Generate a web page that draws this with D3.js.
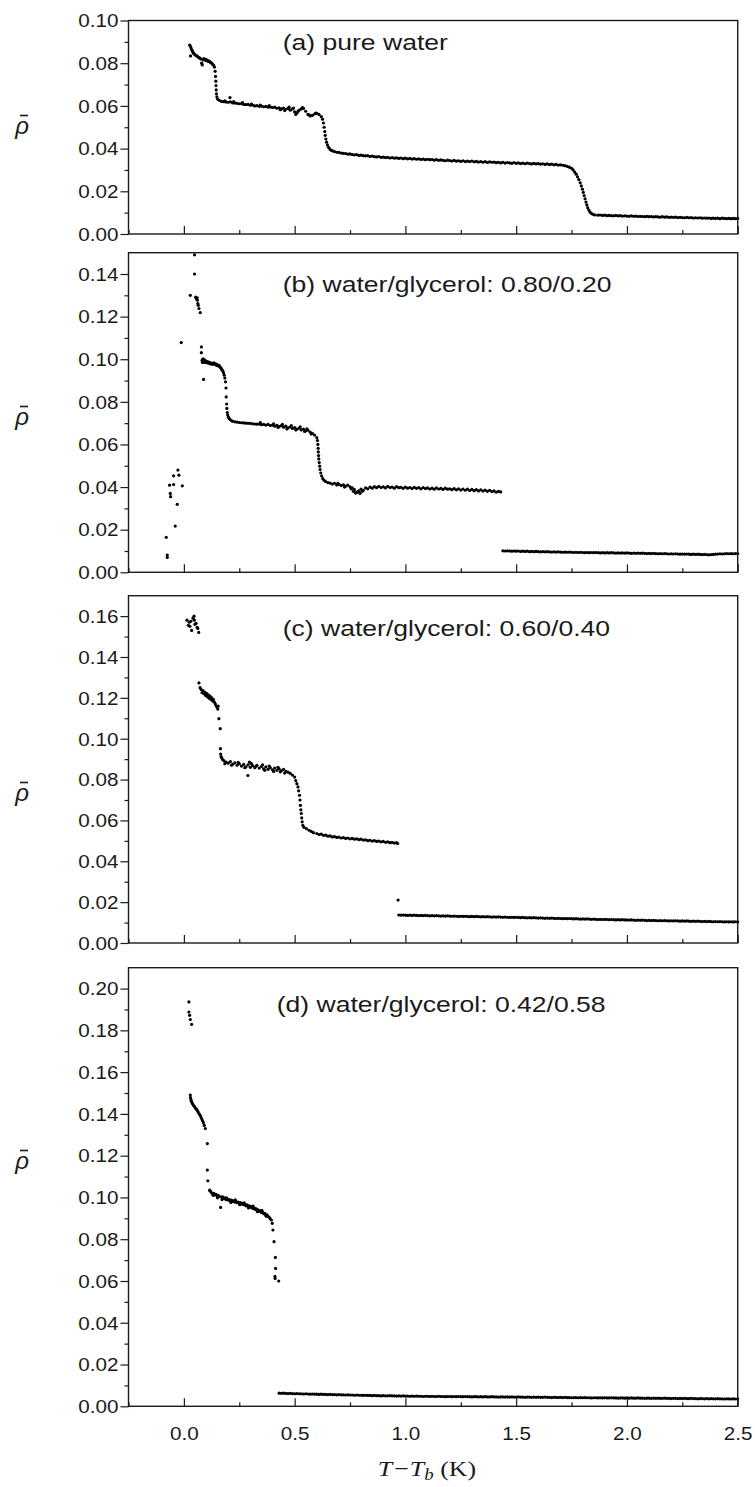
<!DOCTYPE html>
<html><head><meta charset="utf-8">
<script src="https://cdn.jsdelivr.net/npm/d3@7"></script>
<style>body{margin:0;background:#fff}svg{display:block}</style>
</head><body><svg id="chart" width="755" height="1487"></svg>
<script>
// ---------------- DATA ----------------
const panelLabels = ["(a) pure water", "(b) water/glycerol: 0.80/0.20", "(c) water/glycerol: 0.60/0.40", "(d) water/glycerol: 0.42/0.58"];
const yMaxes = [0.10, 0.15, 0.17, 0.21];
const yTicksA = [0, 0.02, 0.04, 0.06, 0.08, 0.10];
const yTicksB = [0, 0.02, 0.04, 0.06, 0.08, 0.10, 0.12, 0.14];
const yTicksC = [0, 0.02, 0.04, 0.06, 0.08, 0.10, 0.12, 0.14, 0.16];
const yTicksD = [0, 0.02, 0.04, 0.06, 0.08, 0.10, 0.12, 0.14, 0.16, 0.18, 0.20];
const xDomain = [-0.25, 2.5];
const xTicks = [0, 0.5, 1.0, 1.5, 2.0, 2.5];
const xMinorTicks = [-0.25, 0.25, 0.75, 1.25, 1.75, 2.25];
const xTitle = ["T\u2212T", "b", " (K)"];
const yTitle = "\u03C1";

// (a) pure water
const pureWater = [
[0.026,0.0885],[0.029,0.0880],[0.032,0.0872],[0.030,0.0834],[0.035,0.0864],[0.038,0.0858],[0.041,0.0851],[0.044,0.0846],[0.048,0.0842],[0.052,0.0838],[0.056,0.0836],[0.060,0.0833],[0.064,0.0829],[0.068,0.0826],[0.072,0.0824],[0.076,0.0820],[0.080,0.0800],[0.083,0.0792],[0.086,0.0816],[0.090,0.0822],[0.094,0.0815],[0.098,0.0818],[0.102,0.0812],[0.106,0.0815],[0.110,0.0808],[0.114,0.0810],[0.118,0.0806],[0.122,0.0802],[0.126,0.0800],[0.130,0.0795],[0.134,0.0790],[0.138,0.0782],
[0.141,0.0762],[0.143,0.0738],[0.144,0.0716],[0.145,0.0695],[0.146,0.0675],[0.147,0.0657],[0.149,0.0642],[0.152,0.0632],
[0.16,0.0626],[0.17,0.0621],[0.18,0.0620],[0.19,0.0618],[0.20,0.0617],[0.21,0.0619],[0.208,0.0639],[0.22,0.0614],[0.23,0.0613],[0.24,0.0612],[0.25,0.0610],[0.26,0.0611],[0.27,0.0607],[0.28,0.0606],[0.29,0.0607],[0.30,0.0603],[0.31,0.0604],[0.32,0.0600],[0.33,0.0601],[0.34,0.0598],[0.35,0.0599],[0.36,0.0596],[0.37,0.0598],[0.38,0.0594],[0.39,0.0595],[0.40,0.0592],[0.41,0.0594],[0.42,0.0589],[0.43,0.0591],[0.44,0.0586],[0.45,0.0590],[0.46,0.0584],[0.47,0.0588],[0.48,0.0580],[0.49,0.0586],[0.50,0.0572],[0.51,0.0566],[0.52,0.0580],[0.53,0.0586],[0.54,0.0588],[0.55,0.0575],[0.56,0.0560],[0.57,0.0553],[0.58,0.0556],[0.59,0.0562],[0.60,0.0565],[0.61,0.0560],[0.62,0.0550],
[0.455,0.0578],[0.475,0.0594],[0.495,0.0590],[0.505,0.0560],[0.515,0.0574],[0.535,0.0592],[0.565,0.0558],[0.595,0.0566],[0.435,0.0582],[0.385,0.0601],[0.345,0.0604],[0.305,0.0609],[0.265,0.0615],[0.225,0.0620],[0.185,0.0624],
[0.626,0.0538],[0.630,0.0520],[0.633,0.0500],[0.636,0.0480],[0.638,0.0462],[0.641,0.0445],[0.644,0.0430],[0.648,0.0417],[0.653,0.0406],[0.659,0.0398],[0.665,0.0392],[0.672,0.0389],
[0.68,0.0386],[0.69,0.0383],[0.70,0.0382],[0.71,0.0379],[0.72,0.0378],[0.73,0.0377],[0.74,0.0374],[0.75,0.0375],[0.76,0.0372],[0.77,0.0371],[0.78,0.0372],[0.79,0.0368],[0.80,0.0369],[0.81,0.0367],[0.82,0.0366],[0.83,0.0367],[0.84,0.0363],[0.85,0.0365],[0.86,0.0362],[0.87,0.0361],[0.88,0.0363],[0.89,0.0359],[0.90,0.0360],[0.91,0.0358],[0.92,0.0359],[0.93,0.0356],[0.94,0.0358],[0.95,0.0355],[0.96,0.0357],[0.97,0.0354],[0.98,0.0356],[0.99,0.0353],
[1.00,0.0355],[1.01,0.0352],[1.02,0.0354],[1.03,0.0351],[1.04,0.0353],[1.05,0.0350],[1.06,0.0352],[1.07,0.0349],[1.08,0.0351],[1.09,0.0348],[1.10,0.0350],[1.11,0.0348],[1.12,0.0349],[1.13,0.0346],[1.14,0.0348],[1.15,0.0345],[1.16,0.0347],[1.17,0.0345],[1.18,0.0343],[1.19,0.0346],[1.20,0.0344],[1.21,0.0342],[1.22,0.0345],[1.23,0.0341],[1.24,0.0343],[1.25,0.0340],[1.26,0.0343],[1.27,0.0339],[1.28,0.0341],[1.29,0.0339],[1.30,0.0342],[1.31,0.0338],[1.32,0.0340],[1.33,0.0337],[1.34,0.0339],[1.35,0.0336],[1.36,0.0339],[1.37,0.0335],[1.38,0.0338],[1.39,0.0336],[1.40,0.0337],[1.41,0.0334],[1.42,0.0336],[1.43,0.0333],[1.44,0.0336],[1.45,0.0332],[1.46,0.0335],[1.47,0.0333],[1.48,0.0331],[1.49,0.0334],[1.50,0.0331],[1.51,0.0333],[1.52,0.0330],[1.53,0.0332],[1.54,0.0329],[1.55,0.0332],[1.56,0.0330],[1.57,0.0328],[1.58,0.0331],[1.59,0.0328],[1.60,0.0330],[1.61,0.0327],[1.62,0.0329],[1.63,0.0326],[1.64,0.0328],[1.65,0.0325],[1.66,0.0327],[1.67,0.0324],[1.68,0.0326],[1.69,0.0323],[1.70,0.0324],[1.71,0.0322],[1.72,0.0320],[1.73,0.0317],[1.74,0.0313],[1.75,0.0308],
[1.757,0.0300],[1.764,0.0290],[1.771,0.0280],[1.777,0.0268],[1.783,0.0255],[1.789,0.0240],[1.794,0.0225],[1.799,0.0210],[1.803,0.0195],[1.807,0.0180],[1.811,0.0165],[1.815,0.0150],[1.819,0.0136],[1.823,0.0123],[1.828,0.0112],[1.834,0.0102],[1.841,0.0095],[1.849,0.0091],[1.857,0.0089],
[1.87,0.0088],[1.88,0.0089],[1.89,0.0087],[1.90,0.0088],[1.91,0.0086],[1.92,0.0087],[1.93,0.0086],[1.94,0.0085],[1.95,0.0087],[1.96,0.0085],[1.97,0.0086],[1.98,0.0084],[1.99,0.0085],[2.00,0.0084],[2.01,0.0083],[2.02,0.0085],[2.03,0.0083],[2.04,0.0084],[2.05,0.0082],[2.06,0.0083],[2.07,0.0082],[2.08,0.0081],[2.09,0.0083],[2.10,0.0081],[2.11,0.0082],[2.12,0.0080],[2.13,0.0081],[2.14,0.0080],[2.15,0.0079],[2.16,0.0081],[2.17,0.0079],[2.18,0.0080],[2.19,0.0078],[2.20,0.0079],[2.21,0.0078],[2.22,0.0079],[2.23,0.0077],[2.24,0.0078],[2.25,0.0077],[2.26,0.0076],[2.27,0.0078],[2.28,0.0076],[2.29,0.0077],[2.30,0.0075],[2.31,0.0076],[2.32,0.0075],[2.33,0.0076],[2.34,0.0074],[2.35,0.0075],[2.36,0.0074],[2.37,0.0075],[2.38,0.0073],[2.39,0.0074],[2.40,0.0073],[2.41,0.0074],[2.42,0.0072],[2.43,0.0074],[2.44,0.0073],[2.45,0.0072],[2.46,0.0073],[2.47,0.0072],[2.48,0.0073],[2.49,0.0072],[2.50,0.0073]
];

// (b) water/glycerol 0.80/0.20
const glycerol20 = [
[-0.0795,0.0164],[-0.075,0.0081],[-0.075,0.0070],[-0.0646,0.0409],[-0.0614,0.0370],[-0.060,0.0355],[-0.0465,0.0412],[-0.0465,0.0453],[-0.039,0.0217],[-0.030,0.0319],[-0.027,0.0480],[-0.0226,0.0456],[-0.0072,0.0406],[-0.012,0.1078],
[0.048,0.1490],[0.048,0.1400],[0.029,0.1300],[0.053,0.1292],[0.056,0.1285],[0.060,0.1288],[0.061,0.1277],[0.063,0.1261],[0.065,0.1253],[0.068,0.1238],[0.074,0.1219],
[0.079,0.1058],[0.079,0.1031],[0.082,0.0995],[0.084,0.0985],[0.086,0.1002],[0.089,0.0905],[0.088,0.0990],[0.091,0.0998],[0.094,0.0985],[0.097,0.0993],[0.100,0.0986],[0.103,0.0990],[0.106,0.0983],[0.110,0.0988],[0.113,0.0981],[0.117,0.0984],[0.120,0.0978],[0.124,0.0982],[0.128,0.0976],[0.132,0.0979],[0.136,0.0983],[0.140,0.0975],[0.144,0.0978],[0.148,0.0971],[0.152,0.0974],[0.156,0.0968],[0.160,0.0970],[0.164,0.0962],[0.168,0.0958],[0.172,0.0950],[0.176,0.0945],[0.179,0.0936],[0.182,0.0925],[0.185,0.0912],[0.188,0.0894],
[0.190,0.0865],[0.191,0.0823],[0.193,0.0790],[0.194,0.0769],[0.196,0.0750],[0.198,0.0738],[0.201,0.0728],[0.205,0.0721],[0.210,0.0716],[0.215,0.0712],[0.22,0.0709],
[0.23,0.0706],[0.24,0.0705],[0.25,0.0703],[0.26,0.0702],[0.27,0.0701],[0.28,0.0700],[0.29,0.0699],[0.30,0.0699],[0.31,0.0697],[0.32,0.0696],[0.33,0.0695],[0.34,0.0696],[0.35,0.0693],[0.36,0.0694],[0.37,0.0691],[0.38,0.0694],[0.39,0.0689],[0.40,0.0691],[0.41,0.0686],[0.42,0.0690],[0.43,0.0684],[0.44,0.0688],[0.45,0.0681],[0.46,0.0686],[0.47,0.0678],[0.48,0.0682],[0.49,0.0675],[0.50,0.0679],[0.51,0.0672],[0.52,0.0676],[0.53,0.0668],[0.54,0.0672],[0.55,0.0664],[0.56,0.0667],[0.57,0.0658],[0.58,0.0652],[0.59,0.0644],[0.60,0.0632],
[0.345,0.0703],[0.405,0.0697],[0.445,0.0694],[0.465,0.0673],[0.485,0.0688],[0.505,0.0668],[0.525,0.0683],[0.545,0.0661],[0.555,0.0673],[0.575,0.0649],[0.425,0.0680],
[0.603,0.0618],[0.605,0.0600],[0.606,0.0582],[0.607,0.0565],[0.608,0.0548],[0.609,0.0532],[0.611,0.0515],[0.613,0.0498],[0.615,0.0482],[0.618,0.0466],[0.622,0.0452],[0.627,0.0440],[0.633,0.0432],[0.64,0.0426],[0.65,0.0421],
[0.66,0.0419],[0.67,0.0414],[0.68,0.0418],[0.69,0.0410],[0.70,0.0413],[0.71,0.0407],[0.72,0.0411],[0.73,0.0404],[0.74,0.0409],[0.75,0.0401],[0.76,0.0396],[0.77,0.0388],[0.78,0.0375],[0.79,0.0382],[0.80,0.0390],[0.81,0.0385],[0.82,0.0396],[0.83,0.0392],[0.84,0.0400],[0.85,0.0395],[0.86,0.0402],[0.87,0.0397],[0.88,0.0403],[0.89,0.0398],[0.90,0.0401],[0.91,0.0396],[0.92,0.0403],[0.93,0.0398],[0.94,0.0400],[0.95,0.0395],[0.96,0.0402],[0.97,0.0397],[0.98,0.0399],[0.99,0.0394],
[1.00,0.0400],[1.01,0.0395],[1.02,0.0398],[1.03,0.0393],[1.04,0.0399],[1.05,0.0394],[1.06,0.0397],[1.07,0.0392],[1.08,0.0398],[1.09,0.0393],[1.10,0.0396],[1.11,0.0391],[1.12,0.0395],[1.13,0.0390],[1.14,0.0396],[1.15,0.0391],[1.16,0.0394],[1.17,0.0389],[1.18,0.0395],[1.19,0.0390],[1.20,0.0392],[1.21,0.0388],[1.22,0.0393],[1.23,0.0387],[1.24,0.0392],[1.25,0.0386],[1.26,0.0391],[1.27,0.0385],[1.28,0.0390],[1.29,0.0384],[1.30,0.0389],[1.31,0.0383],[1.32,0.0388],[1.33,0.0382],[1.34,0.0387],[1.35,0.0381],[1.36,0.0386],[1.37,0.0380],[1.38,0.0385],[1.39,0.0379],[1.40,0.0382],[1.41,0.0376],[1.42,0.0380],[1.43,0.0377],
[0.765,0.0380],[0.775,0.0372],[0.785,0.0378],[0.795,0.0370],[0.805,0.0380],[0.755,0.0392],[0.725,0.0400],[0.695,0.0417],
[1.44,0.0101],[1.45,0.0100],[1.46,0.0101],[1.47,0.0100],[1.48,0.0099],[1.49,0.0100],[1.50,0.0099],[1.51,0.0100],[1.52,0.0098],[1.53,0.0099],[1.54,0.0098],[1.55,0.0099],[1.56,0.0097],[1.57,0.0098],[1.58,0.0097],[1.59,0.0098],[1.60,0.0097],[1.61,0.0096],[1.62,0.0097],[1.63,0.0096],[1.64,0.0097],[1.65,0.0096],[1.66,0.0095],[1.67,0.0096],[1.68,0.0095],[1.69,0.0096],[1.70,0.0095],[1.71,0.0094],[1.72,0.0095],[1.73,0.0094],[1.74,0.0095],[1.75,0.0094],[1.76,0.0093],[1.77,0.0094],[1.78,0.0093],[1.79,0.0094],[1.80,0.0093],[1.81,0.0092],[1.82,0.0093],[1.83,0.0092],[1.84,0.0093],[1.85,0.0092],[1.86,0.0093],[1.87,0.0092],[1.88,0.0091],[1.89,0.0092],[1.90,0.0091],[1.91,0.0092],[1.92,0.0091],[1.93,0.0092],[1.94,0.0091],[1.95,0.0090],[1.96,0.0091],[1.97,0.0090],[1.98,0.0091],[1.99,0.0090],[2.00,0.0091],[2.01,0.0090],[2.02,0.0089],[2.03,0.0090],[2.04,0.0089],[2.05,0.0090],[2.06,0.0089],[2.07,0.0090],[2.08,0.0089],[2.09,0.0088],[2.10,0.0089],[2.11,0.0088],[2.12,0.0089],[2.13,0.0088],[2.14,0.0087],[2.15,0.0088],[2.16,0.0087],[2.17,0.0088],[2.18,0.0087],[2.19,0.0086],[2.20,0.0087],[2.21,0.0086],[2.22,0.0087],[2.23,0.0086],[2.24,0.0085],[2.25,0.0086],[2.26,0.0085],[2.27,0.0086],[2.28,0.0085],[2.29,0.0084],[2.30,0.0085],[2.31,0.0084],[2.32,0.0085],[2.33,0.0084],[2.34,0.0083],[2.35,0.0084],[2.36,0.0083],[2.37,0.0082],[2.38,0.0083],[2.39,0.0084],[2.40,0.0085],[2.41,0.0086],[2.42,0.0087],[2.43,0.0086],[2.44,0.0087],[2.45,0.0088],[2.46,0.0087],[2.47,0.0088],[2.48,0.0087],[2.49,0.0088],[2.50,0.0088]
];

// (c) water/glycerol 0.60/0.40
const glycerol40 = [
[0.014,0.1580],[0.024,0.1570],[0.027,0.1550],[0.035,0.1530],[0.046,0.1600],[0.047,0.1580],[0.050,0.1560],[0.055,0.1565],[0.060,0.1545],[0.063,0.1540],[0.067,0.1520],[0.020,0.1555],[0.031,0.1575],[0.041,0.1590],
[0.068,0.1273],[0.073,0.1250],[0.078,0.1240],[0.082,0.1225],[0.086,0.1236],[0.090,0.1220],[0.094,0.1228],[0.098,0.1212],[0.102,0.1222],[0.106,0.1205],[0.110,0.1215],[0.114,0.1198],[0.118,0.1208],[0.122,0.1192],[0.126,0.1200],[0.130,0.1185],[0.134,0.1192],[0.138,0.1178],[0.142,0.1170],[0.146,0.1160],[0.150,0.1155],[0.153,0.1145],[0.155,0.1160],
[0.158,0.1098],[0.164,0.1049],[0.165,0.0951],[0.166,0.0925],[0.168,0.0912],[0.171,0.0905],[0.175,0.0898],
[0.18,0.0893],[0.19,0.0885],[0.20,0.0880],[0.21,0.0888],[0.22,0.0875],[0.23,0.0882],[0.24,0.0870],[0.25,0.0878],[0.26,0.0866],[0.27,0.0874],[0.28,0.0862],[0.29,0.0872],[0.30,0.0860],[0.31,0.0868],[0.32,0.0858],[0.33,0.0870],[0.34,0.0856],[0.35,0.0864],[0.36,0.0852],[0.37,0.0862],[0.38,0.0850],[0.39,0.0858],[0.40,0.0848],[0.41,0.0856],[0.42,0.0845],[0.43,0.0853],[0.44,0.0843],[0.45,0.0850],[0.46,0.0840],[0.47,0.0836],[0.48,0.0830],[0.49,0.0822],[0.50,0.0812],
[0.185,0.0878],[0.215,0.0870],[0.245,0.0884],[0.275,0.0858],[0.289,0.0820],[0.305,0.0878],[0.325,0.0865],[0.355,0.0872],[0.365,0.0845],[0.385,0.0866],[0.405,0.0840],[0.425,0.0860],[0.435,0.0838],[0.455,0.0832],[0.296,0.0885],
[0.505,0.0795],[0.51,0.0780],[0.515,0.0764],[0.518,0.0745],[0.522,0.0723],[0.524,0.0700],[0.526,0.0674],[0.528,0.0652],[0.530,0.0634],[0.532,0.0612],[0.534,0.0593],[0.537,0.0576],[0.542,0.0566],[0.553,0.0560],[0.565,0.0552],[0.575,0.0546],[0.585,0.0540],
[0.60,0.0536],[0.61,0.0531],[0.62,0.0533],[0.63,0.0527],[0.64,0.0528],[0.65,0.0523],[0.66,0.0524],[0.67,0.0519],[0.68,0.0521],[0.69,0.0517],[0.70,0.0518],[0.71,0.0514],[0.72,0.0516],[0.73,0.0512],[0.74,0.0514],[0.75,0.0510],[0.76,0.0512],[0.77,0.0508],[0.78,0.0510],[0.79,0.0506],[0.80,0.0508],[0.81,0.0504],[0.82,0.0505],[0.83,0.0501],[0.84,0.0503],[0.85,0.0499],[0.86,0.0501],[0.87,0.0497],[0.88,0.0499],[0.89,0.0495],[0.90,0.0497],[0.91,0.0493],[0.92,0.0495],[0.93,0.0491],[0.94,0.0493],[0.95,0.0489],[0.96,0.0491],[0.965,0.0487],
[0.967,0.0210],
[0.97,0.0137],[0.98,0.0136],[0.99,0.0137],[1.00,0.0136],[1.01,0.0135],[1.02,0.0136],[1.03,0.0135],[1.04,0.0136],[1.05,0.0135],[1.06,0.0134],[1.07,0.0135],[1.08,0.0134],[1.09,0.0135],[1.10,0.0134],[1.11,0.0133],[1.12,0.0134],[1.13,0.0133],[1.14,0.0134],[1.15,0.0133],[1.16,0.0132],[1.17,0.0133],[1.18,0.0132],[1.19,0.0133],[1.20,0.0132],[1.21,0.0131],[1.22,0.0132],[1.23,0.0131],[1.24,0.0130],[1.25,0.0131],[1.26,0.0130],[1.27,0.0131],[1.28,0.0130],[1.29,0.0129],[1.30,0.0130],[1.31,0.0129],[1.32,0.0130],[1.33,0.0129],[1.34,0.0128],[1.35,0.0129],[1.36,0.0128],[1.37,0.0129],[1.38,0.0128],[1.39,0.0127],[1.40,0.0128],[1.41,0.0127],[1.42,0.0128],[1.43,0.0127],[1.44,0.0126],[1.45,0.0127],[1.46,0.0126],[1.47,0.0125],[1.48,0.0126],[1.49,0.0125],[1.50,0.0126],[1.51,0.0125],[1.52,0.0124],[1.53,0.0125],[1.54,0.0124],[1.55,0.0123],[1.56,0.0124],[1.57,0.0123],[1.58,0.0124],[1.59,0.0123],[1.60,0.0122],[1.61,0.0123],[1.62,0.0122],[1.63,0.0121],[1.64,0.0122],[1.65,0.0121],[1.66,0.0122],[1.67,0.0121],[1.68,0.0120],[1.69,0.0121],[1.70,0.0120],[1.71,0.0119],[1.72,0.0120],[1.73,0.0119],[1.74,0.0120],[1.75,0.0119],[1.76,0.0118],[1.77,0.0119],[1.78,0.0118],[1.79,0.0117],[1.80,0.0118],[1.81,0.0117],[1.82,0.0118],[1.83,0.0117],[1.84,0.0116],[1.85,0.0117],[1.86,0.0116],[1.87,0.0115],[1.88,0.0116],[1.89,0.0115],[1.90,0.0116],[1.91,0.0115],[1.92,0.0114],[1.93,0.0115],[1.94,0.0114],[1.95,0.0113],[1.96,0.0114],[1.97,0.0113],[1.98,0.0114],[1.99,0.0113],[2.00,0.0113],[2.01,0.0112],[2.02,0.0113],[2.03,0.0112],[2.04,0.0111],[2.05,0.0112],[2.06,0.0111],[2.07,0.0112],[2.08,0.0111],[2.09,0.0110],[2.10,0.0111],[2.11,0.0110],[2.12,0.0111],[2.13,0.0110],[2.14,0.0109],[2.15,0.0110],[2.16,0.0109],[2.17,0.0110],[2.18,0.0109],[2.19,0.0108],[2.20,0.0109],[2.21,0.0108],[2.22,0.0109],[2.23,0.0108],[2.24,0.0107],[2.25,0.0108],[2.26,0.0107],[2.27,0.0108],[2.28,0.0107],[2.29,0.0106],[2.30,0.0107],[2.31,0.0106],[2.32,0.0107],[2.33,0.0106],[2.34,0.0105],[2.35,0.0106],[2.36,0.0105],[2.37,0.0106],[2.38,0.0105],[2.39,0.0104],[2.40,0.0105],[2.41,0.0104],[2.42,0.0105],[2.43,0.0104],[2.44,0.0103],[2.45,0.0104],[2.46,0.0103],[2.47,0.0104],[2.48,0.0103],[2.49,0.0104],[2.50,0.0103]
];

// (d) water/glycerol 0.42/0.58
const glycerol58 = [
[0.0226,0.1936],[0.0228,0.1888],[0.026,0.1872],[0.029,0.1852],[0.035,0.1829],
[0.029,0.1490],[0.030,0.1478],[0.032,0.1468],[0.034,0.1460],[0.037,0.1452],[0.040,0.1447],[0.044,0.1440],[0.048,0.1435],[0.052,0.1428],[0.056,0.1423],[0.060,0.1418],[0.064,0.1410],[0.068,0.1402],[0.072,0.1395],[0.076,0.1388],[0.080,0.1378],[0.084,0.1368],[0.088,0.1358],[0.092,0.1345],[0.097,0.1330],[0.106,0.1258],[0.106,0.1131],[0.108,0.1080],
[0.116,0.1035],[0.120,0.1030],[0.125,0.1022],[0.130,0.1018],[0.135,0.1020],[0.140,0.1012],[0.145,0.1015],[0.150,0.1008],[0.155,0.1010],[0.160,0.1005],[0.166,0.0952],[0.170,0.1002],[0.175,0.1003],[0.180,0.0995],[0.185,0.0998],[0.190,0.0990],[0.195,0.0993],[0.200,0.0987],[0.205,0.0990],[0.210,0.0984],[0.215,0.0987],[0.220,0.0981],[0.225,0.0984],[0.230,0.0978],[0.235,0.0981],[0.240,0.0975],[0.245,0.0978],[0.250,0.0972],[0.255,0.0975],[0.260,0.0968],[0.265,0.0972],[0.270,0.0965],[0.275,0.0968],[0.280,0.0960],[0.285,0.0964],[0.290,0.0957],[0.295,0.0960],[0.300,0.0953],[0.305,0.0956],[0.310,0.0948],[0.315,0.0951],[0.320,0.0944],[0.325,0.0946],[0.330,0.0939],[0.335,0.0941],[0.340,0.0934],[0.345,0.0936],[0.350,0.0928],[0.355,0.0930],[0.360,0.0922],[0.365,0.0924],[0.370,0.0915],[0.375,0.0917],[0.380,0.0909],[0.385,0.0905],[0.390,0.0898],[0.395,0.0892],[0.399,0.0876],[0.402,0.0844],[0.407,0.0788],[0.413,0.0713],[0.414,0.0660],[0.411,0.0622],[0.412,0.0612],[0.428,0.0600],
[0.172,0.0990],[0.192,0.0998],[0.212,0.0976],[0.232,0.0988],[0.252,0.0965],[0.272,0.0974],[0.292,0.0950],[0.312,0.0958],[0.332,0.0932],[0.352,0.0938],[0.372,0.0910],[0.152,0.0998],[0.132,0.1010],
[0.43,0.0063],[0.44,0.0062],[0.45,0.0063],[0.46,0.0062],[0.47,0.0061],[0.48,0.0062],[0.49,0.0061],[0.50,0.0060],[0.51,0.0061],[0.52,0.0060],[0.53,0.0060],[0.54,0.0059],[0.55,0.0060],[0.56,0.0059],[0.57,0.0058],[0.58,0.0059],[0.59,0.0058],[0.60,0.0058],[0.61,0.0057],[0.62,0.0058],[0.63,0.0057],[0.64,0.0057],[0.65,0.0056],[0.66,0.0057],[0.67,0.0056],[0.68,0.0056],[0.69,0.0055],[0.70,0.0056],[0.71,0.0055],[0.72,0.0055],[0.73,0.0054],[0.74,0.0055],[0.75,0.0054],[0.76,0.0054],[0.77,0.0053],[0.78,0.0054],[0.79,0.0053],[0.80,0.0053],[0.81,0.0052],[0.82,0.0053],[0.83,0.0052],[0.84,0.0052],[0.85,0.0051],[0.86,0.0052],[0.87,0.0051],[0.88,0.0051],[0.89,0.0050],[0.90,0.0051],[0.91,0.0050],[0.92,0.0050],[0.93,0.0051],[0.94,0.0050],[0.95,0.0050],[0.96,0.0049],[0.97,0.0050],[0.98,0.0049],[0.99,0.0050],
[1.00,0.0049],[1.01,0.0049],[1.02,0.0048],[1.03,0.0049],[1.04,0.0048],[1.05,0.0049],[1.06,0.0048],[1.07,0.0048],[1.08,0.0047],[1.09,0.0048],[1.10,0.0048],[1.11,0.0047],[1.12,0.0048],[1.13,0.0047],[1.14,0.0047],[1.15,0.0048],[1.16,0.0047],[1.17,0.0047],[1.18,0.0046],[1.19,0.0047],[1.20,0.0047],[1.21,0.0046],[1.22,0.0047],[1.23,0.0046],[1.24,0.0047],[1.25,0.0046],[1.26,0.0046],[1.27,0.0047],[1.28,0.0046],[1.29,0.0046],[1.30,0.0045],[1.31,0.0046],[1.32,0.0046],[1.33,0.0045],[1.34,0.0046],[1.35,0.0045],[1.36,0.0046],[1.37,0.0045],[1.38,0.0045],[1.39,0.0046],[1.40,0.0045],[1.41,0.0045],[1.42,0.0044],[1.43,0.0045],[1.44,0.0045],[1.45,0.0044],[1.46,0.0045],[1.47,0.0044],[1.48,0.0045],[1.49,0.0044],[1.50,0.0044],[1.51,0.0045],[1.52,0.0044],[1.53,0.0044],[1.54,0.0043],[1.55,0.0044],[1.56,0.0044],[1.57,0.0043],[1.58,0.0044],[1.59,0.0043],[1.60,0.0044],[1.61,0.0043],[1.62,0.0043],[1.63,0.0044],[1.64,0.0043],[1.65,0.0043],[1.66,0.0042],[1.67,0.0043],[1.68,0.0043],[1.69,0.0042],[1.70,0.0043],[1.71,0.0042],[1.72,0.0043],[1.73,0.0042],[1.74,0.0042],[1.75,0.0041],[1.76,0.0042],[1.77,0.0042],[1.78,0.0041],[1.79,0.0042],[1.80,0.0041],[1.81,0.0042],[1.82,0.0041],[1.83,0.0041],[1.84,0.0040],[1.85,0.0041],[1.86,0.0041],[1.87,0.0040],[1.88,0.0041],[1.89,0.0040],[1.90,0.0041],[1.91,0.0040],[1.92,0.0040],[1.93,0.0041],[1.94,0.0040],[1.95,0.0040],[1.96,0.0039],[1.97,0.0040],[1.98,0.0040],[1.99,0.0039],
[2.00,0.0040],[2.01,0.0039],[2.02,0.0040],[2.03,0.0039],[2.04,0.0039],[2.05,0.0040],[2.06,0.0039],[2.07,0.0039],[2.08,0.0038],[2.09,0.0039],[2.10,0.0039],[2.11,0.0038],[2.12,0.0039],[2.13,0.0038],[2.14,0.0039],[2.15,0.0038],[2.16,0.0038],[2.17,0.0039],[2.18,0.0038],[2.19,0.0038],[2.20,0.0037],[2.21,0.0038],[2.22,0.0038],[2.23,0.0037],[2.24,0.0038],[2.25,0.0037],[2.26,0.0038],[2.27,0.0037],[2.28,0.0037],[2.29,0.0038],[2.30,0.0037],[2.31,0.0037],[2.32,0.0036],[2.33,0.0037],[2.34,0.0037],[2.35,0.0036],[2.36,0.0037],[2.37,0.0036],[2.38,0.0037],[2.39,0.0036],[2.40,0.0036],[2.41,0.0037],[2.42,0.0036],[2.43,0.0036],[2.44,0.0035],[2.45,0.0036],[2.46,0.0036],[2.47,0.0035],[2.48,0.0036],[2.49,0.0035],[2.50,0.0036]
];

// ---------------- DRAWING ----------------
const series = [pureWater, glycerol20, glycerol40, glycerol58];
const yTickSets = [yTicksA, yTicksB, yTicksC, yTicksD];

const SX = 1.18;               // horizontal stretch of the original lettering
const FONT = "'Liberation Sans', Arial, sans-serif";
const INK = "#1a1a1a";
const plotLeft = 128.5, plotRight = 737.7;
const frames = [
  {top: 20.5, bottom: 234},
  {top: 252.7, bottom: 572.3},
  {top: 595.7, bottom: 943},
  {top: 967.7, bottom: 1406.3}
];
const labelAnchors = [[282.7, 50], [282.7, 292], [282.7, 635.5], [276.7, 1012]];
const rhoCenters = [128, 419, 795, 1163];

const svg = d3.select("#chart");
const x = d3.scaleLinear().domain(xDomain).range([plotLeft, plotRight]);

series.forEach((data, i) => {
  const F = frames[i];
  const y = d3.scaleLinear().domain([0, yMaxes[i]]).range([F.bottom, F.top]);
  const g = svg.append("g");

  // points
  g.append("g").attr("fill", "#000")
    .selectAll("circle").data(data).join("circle")
    .attr("cx", d => x(d[0])).attr("cy", d => y(d[1])).attr("r", 1.6);

  // y axis, major ticks with labels (outward)
  const yAx = g.append("g").attr("transform", `translate(${plotLeft},0)`)
    .call(d3.axisLeft(y).tickValues(yTickSets[i]).tickSize(8).tickPadding(2).tickFormat(d3.format(".2f")));
  yAx.select(".domain").remove();
  yAx.attr("font-family", FONT).attr("font-size", 17.5);
  yAx.selectAll("line").attr("stroke", INK).attr("stroke-width", 1.2);
  yAx.selectAll("text").attr("fill", INK).attr("x", -10 / SX).attr("dy", "0.36em")
    .attr("transform", `scale(${SX},1)`);

  // y axis minor ticks
  const yMinor = d3.range(0.01, yMaxes[i] - 1e-9, 0.02);
  const yAxM = g.append("g").attr("transform", `translate(${plotLeft},0)`)
    .call(d3.axisLeft(y).tickValues(yMinor).tickSize(4).tickFormat(""));
  yAxM.select(".domain").remove();
  yAxM.selectAll("line").attr("stroke", INK).attr("stroke-width", 1.2);

  // x axis, inward ticks
  const xAx = g.append("g").attr("transform", `translate(0,${F.bottom})`)
    .call(d3.axisBottom(x).tickValues(xTicks).tickSizeInner(-8).tickSizeOuter(0).tickPadding(21)
      .tickFormat(i === 3 ? d3.format(".1f") : ""));
  xAx.select(".domain").remove();
  xAx.attr("font-family", FONT).attr("font-size", 17.5);
  xAx.selectAll("line").attr("stroke", INK).attr("stroke-width", 1.2);
  xAx.selectAll("text").attr("fill", INK).attr("transform", `scale(${SX},1)`);

  const xAxM = g.append("g").attr("transform", `translate(0,${F.bottom})`)
    .call(d3.axisBottom(x).tickValues(xMinorTicks).tickSizeInner(-4).tickSizeOuter(0).tickFormat(""));
  xAxM.select(".domain").remove();
  xAxM.selectAll("line").attr("stroke", INK).attr("stroke-width", 1.2);

  // frame
  g.append("rect").attr("x", plotLeft).attr("y", F.top)
    .attr("width", plotRight - plotLeft).attr("height", F.bottom - F.top)
    .attr("fill", "none").attr("stroke", INK).attr("stroke-width", 1.4);

  // panel label
  g.append("text")
    .attr("transform", `translate(${labelAnchors[i][0]},${labelAnchors[i][1]}) scale(${SX},1)`)
    .attr("font-family", FONT).attr("font-size", 22.5).attr("fill", INK)
    .text(panelLabels[i]);

  // y title: italic rho with an overbar
  const rg = g.append("g").attr("transform", `translate(22,${rhoCenters[i]})`);
  rg.append("text")
    .attr("text-anchor", "middle").attr("y", 6)
    .attr("font-family", FONT).attr("font-style", "italic").attr("font-size", 24).attr("fill", INK)
    .text(yTitle);
  rg.append("path").attr("d", "M-2,-12.5H6")
    .attr("fill", "none").attr("stroke", INK).attr("stroke-width", 1.6);
});

// x axis title
const xt = svg.append("text")
  .attr("transform", `translate(427,1476) scale(${SX},1)`)
  .attr("text-anchor", "middle")
  .attr("font-family", "'Liberation Serif', 'Times New Roman', serif").attr("font-size", 22).attr("fill", INK);
xt.append("tspan").attr("font-style", "italic").text(xTitle[0]);
xt.append("tspan").attr("font-style", "italic").attr("font-size", 16).attr("dy", 4).text(xTitle[1]);
xt.append("tspan").attr("dy", -4).text(xTitle[2]);
</script>
</body></html>
